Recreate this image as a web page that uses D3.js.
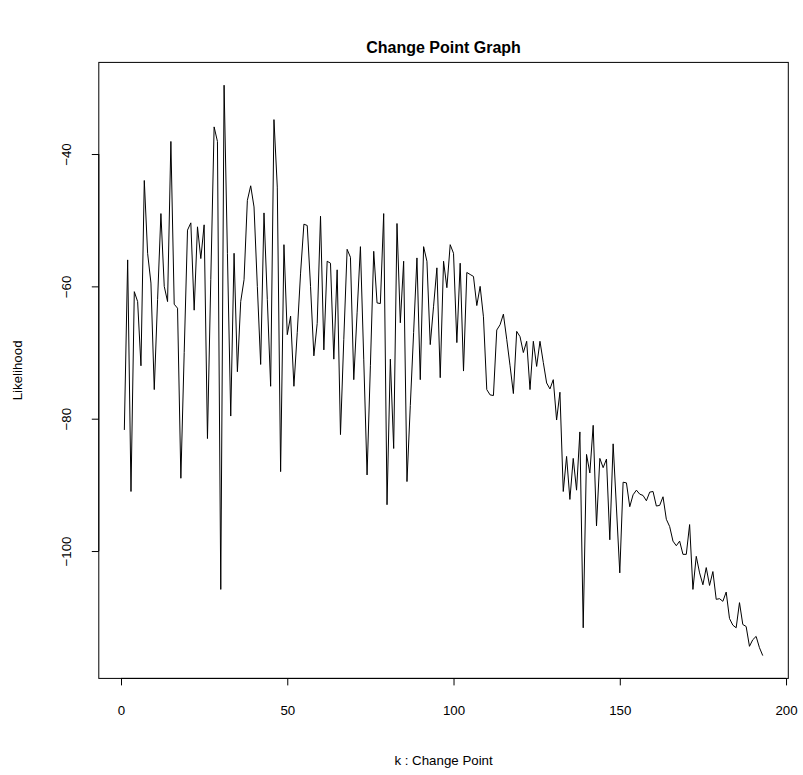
<!DOCTYPE html>
<html>
<head>
<meta charset="utf-8">
<script src="https://cdn.jsdelivr.net/npm/d3@7"></script>
<style>
    body { margin: 0; background: #fff; }
    svg { display: block; font-family: "Liberation Sans", Arial, Helvetica, sans-serif; }
</style>
</head>
<body>
<div id="chart"></div>
<script>
// Data: likelihood for each change point k = 1..193
const likelihood = [
    -81.7, -56, -91, -60.8, -62.3, -72, -44, -55, -59.5, -75.6,
    -62, -49, -60, -62.3, -38.1, -62.7, -63.3, -89, -70, -51.5,
    -50.4, -63.6, -51, -55.8, -50.7, -83, -59, -35.9, -38.1, -105.8,
    -29.6, -55, -79.6, -55, -72.9, -62.3, -59, -47, -44.8, -48,
    -60, -71.8, -48.9, -62, -75.1, -34.8, -45, -88, -53.7, -67.3,
    -64.5, -75.1, -67, -58, -50.6, -50.8, -60, -70.5, -65.6, -49.4,
    -69.6, -56.2, -56.5, -71, -57.5, -82.4, -68, -54.4, -55.6, -74.1,
    -64, -54, -71, -88.5, -72, -54.7, -62.5, -62.6, -49, -93,
    -71, -84.5, -50.5, -65.5, -56.2, -89.5, -78, -67, -55.7, -74.1,
    -54, -56.2, -68.8, -63, -57.2, -73.8, -56.2, -60.2, -53.7, -55,
    -68.5, -56.5, -72.8, -57.9, -58.2, -58.5, -62.9, -60, -64.6, -75.6,
    -76.4, -76.5, -66.6, -65.8, -64.2, -68, -72, -76.2, -66.8, -67.6,
    -70, -68.3, -75.6, -68.3, -72.1, -68.3, -71.5, -74.6, -75.5, -74.1,
    -80.2, -76, -91, -85.7, -92.2, -86, -90.8, -82, -111.6, -85.4,
    -88.2, -81, -96.2, -86, -87.4, -86.1, -98.3, -83.8, -93.5, -103.3,
    -89.6, -89.7, -93.3, -91.5, -90.8, -91.4, -91.6, -92.4, -91.1, -91,
    -93.2, -93.1, -91.8, -95.2, -96.3, -98.5, -99.2, -98.5, -100.5, -100.5,
    -96, -105.8, -100.8, -103.3, -105.1, -102.5, -105.2, -103.1, -107.3, -107.2,
    -107.6, -106.2, -110.2, -111.2, -111.6, -107.8, -111.1, -111.4, -114.4, -113.4,
    -112.9, -114.6, -115.8
];
const changePoints = likelihood.map((_, i) => i + 1);

const xTicks = [0, 50, 100, 150, 200];
const yTicks = [-40, -60, -80, -100];

const title = "Change Point Graph";
const xLabel = "k : Change Point";
const yLabel = "Likelihood";

const width = 803, height = 775;

// R-style 4% padding of the data range
function padded(ext) {
    const d = (ext[1] - ext[0]) * 0.04;
    return [ext[0] - d, ext[1] + d];
}

const x = d3.scaleLinear()
    .domain(padded(d3.extent(changePoints)))
    .range([98.8, 788.3]);

const y = d3.scaleLinear()
    .domain(padded(d3.extent(likelihood)))
    .range([678.4, 62.4]);

const svg = d3.select("#chart").append("svg")
    .attr("width", width)
    .attr("height", height);

const [x0, x1] = x.range();
const [y0, y1] = y.range();

// Plot box
svg.append("rect")
    .attr("x", x0)
    .attr("y", y1)
    .attr("width", x1 - x0)
    .attr("height", y0 - y1)
    .attr("fill", "none")
    .attr("stroke", "#000")
    .attr("stroke-width", 1);

// Line
const line = d3.line()
    .x((d, i) => x(changePoints[i]))
    .y(d => y(d));

svg.append("path")
    .datum(likelihood)
    .attr("d", line)
    .attr("fill", "none")
    .attr("stroke", "#000")
    .attr("stroke-width", 1);

// X axis (R style: axis line only spans the ticks)
const gx = svg.append("g")
    .attr("transform", `translate(0,${y0})`)
    .call(d3.axisBottom(x).tickValues(xTicks).tickSize(7).tickPadding(20).tickSizeOuter(0));
gx.select(".domain").remove();
gx.append("line")
    .attr("x1", x(xTicks[0]))
    .attr("x2", x(xTicks[xTicks.length - 1]))
    .attr("stroke", "#000");

// Y axis
const gy = svg.append("g")
    .attr("transform", `translate(${x0},0)`)
    .call(d3.axisLeft(y).tickValues(yTicks).tickSize(7).tickSizeOuter(0));
gy.select(".domain").remove();
gy.append("line")
    .attr("y1", y(yTicks[0]))
    .attr("y2", y(yTicks[yTicks.length - 1]))
    .attr("stroke", "#000");
gy.selectAll(".tick text")
    .attr("x", null)
    .attr("dy", null)
    .attr("text-anchor", "middle")
    .attr("transform", "translate(-28,0) rotate(-90)");

svg.selectAll(".tick text")
    .attr("fill", "#000")
    .style("font-size", "13.3px")
    .style("font-family", "'Liberation Sans', Arial, sans-serif");
svg.selectAll(".tick line").attr("stroke", "#000");

// Titles
svg.append("text")
    .attr("x", (x0 + x1) / 2)
    .attr("y", 53)
    .attr("text-anchor", "middle")
    .style("font-size", "16px")
    .style("font-weight", "bold")
    .text(title);

svg.append("text")
    .attr("x", (x0 + x1) / 2)
    .attr("y", 765)
    .attr("text-anchor", "middle")
    .style("font-size", "13.3px")
    .text(xLabel);

svg.append("text")
    .attr("transform", `translate(22,${(y0 + y1) / 2}) rotate(-90)`)
    .attr("text-anchor", "middle")
    .style("font-size", "13.3px")
    .text(yLabel);
</script>
</body>
</html>
